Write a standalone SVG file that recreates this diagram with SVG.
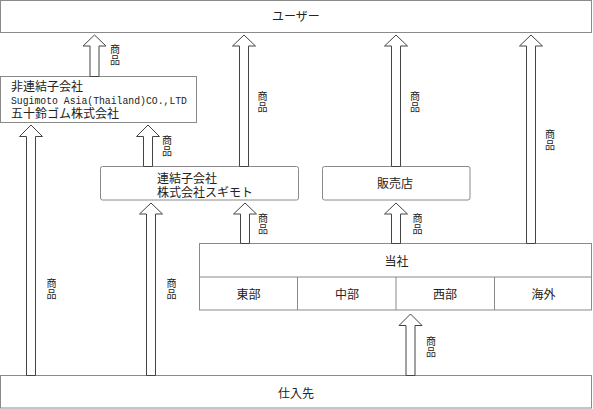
<svg xmlns="http://www.w3.org/2000/svg" width="593" height="409" viewBox="0 0 593 409">
<defs>
<style>
.box{fill:#fff;stroke:#8a8a8a;stroke-width:1}
.arr{fill:#fff;stroke:#444;stroke-width:1}
.t{font-family:"Liberation Serif","Noto Sans CJK JP",serif;font-size:12px;fill:#222}
.m{font-family:"Liberation Mono","Noto Sans CJK JP",monospace;font-size:11px;fill:#222}
.lbl{font-family:"Liberation Serif","Noto Sans CJK JP",serif;font-size:10px;fill:#222;text-anchor:middle}
.c{text-anchor:middle}
</style>
</defs>
<rect width="593" height="409" fill="#fff"/>
<g id="user">
<rect class="box" x="0.5" y="0.5" width="591" height="32"/>
<text class="t c" x="296" y="21">ユーザー</text>
</g>
<g id="nonconsolidated">
<rect class="box" x="0.5" y="76.5" width="196" height="46"/>
<text class="t" x="11" y="91">非連結子会社</text>
<text class="m" x="11" y="104" textLength="176" lengthAdjust="spacingAndGlyphs">Sugimoto Asia(Thailand)CO.,LTD</text>
<text class="t" x="11" y="118">五十鈴ゴム株式会社</text>
</g>
<g id="consolidated">
<rect class="box" x="100.5" y="166.5" width="198" height="33.5" rx="2"/>
<text class="t" x="157" y="182.5">連結子会社</text>
<text class="t" x="157" y="196.5">株式会社スギモト</text>
</g>
<g id="dealer">
<rect class="box" x="322.5" y="166.5" width="147.5" height="33.5" rx="2"/>
<text class="t c" x="395" y="188">販売店</text>
</g>
<g id="company">
<rect class="box" x="199.5" y="243.5" width="392" height="66.5"/>
<line class="box" x1="199.5" y1="277" x2="591.5" y2="277"/>
<line class="box" x1="297.5" y1="277" x2="297.5" y2="310"/>
<line class="box" x1="396" y1="277" x2="396" y2="310"/>
<line class="box" x1="494.5" y1="277" x2="494.5" y2="310"/>
<text class="t c" x="396.5" y="266">当社</text>
<text class="t c" x="248.5" y="299">東部</text>
<text class="t c" x="347" y="299">中部</text>
<text class="t c" x="445" y="299">西部</text>
<text class="t c" x="543.5" y="299">海外</text>
</g>
<g id="supplier">
<rect class="box" x="0.5" y="375.5" width="591" height="32.5"/>
<text class="t c" x="296" y="398">仕入先</text>
</g>
<g id="connectors">
<path class="arr" d="M94.5,35 L106,46 L99,46 L99,76.5 L90,76.5 L90,46 L83,46 Z"/>
<path class="arr" d="M244,35 L255.5,46 L248.5,46 L248.5,166.5 L239.5,166.5 L239.5,46 L232.5,46 Z"/>
<path class="arr" d="M396,35 L407.5,46 L400.5,46 L400.5,166.5 L391.5,166.5 L391.5,46 L384.5,46 Z"/>
<path class="arr" d="M531,35 L542.5,46 L535.5,46 L535.5,243.5 L526.5,243.5 L526.5,46 L519.5,46 Z"/>
<path class="arr" d="M148,125 L159.5,136.5 L152.5,136.5 L152.5,166.5 L143.5,166.5 L143.5,136.5 L136.5,136.5 Z"/>
<path class="arr" d="M31,125 L42.5,136.5 L35.5,136.5 L35.5,375.5 L26.5,375.5 L26.5,136.5 L19.5,136.5 Z"/>
<path class="arr" d="M151,203 L162.5,214 L155.5,214 L155.5,375.5 L146.5,375.5 L146.5,214 L139.5,214 Z"/>
<path class="arr" d="M245,203 L256.5,214 L249.5,214 L249.5,243.5 L240.5,243.5 L240.5,214 L233.5,214 Z"/>
<path class="arr" d="M396,203 L407.5,214 L400.5,214 L400.5,243.5 L391.5,243.5 L391.5,214 L384.5,214 Z"/>
<path class="arr" d="M410.5,314 L422,325.5 L415,325.5 L415,375.5 L406,375.5 L406,325.5 L399,325.5 Z"/>
<text class="lbl" x="115" y="52.5">商<tspan x="115" dy="11">品</tspan></text>
<text class="lbl" x="262.5" y="99.5">商<tspan x="262.5" dy="11">品</tspan></text>
<text class="lbl" x="415" y="99.5">商<tspan x="415" dy="11">品</tspan></text>
<text class="lbl" x="550" y="137.5">商<tspan x="550" dy="11">品</tspan></text>
<text class="lbl" x="167" y="143.5">商<tspan x="167" dy="11">品</tspan></text>
<text class="lbl" x="263" y="221.5">商<tspan x="263" dy="11">品</tspan></text>
<text class="lbl" x="417.5" y="221.5">商<tspan x="417.5" dy="11">品</tspan></text>
<text class="lbl" x="51.5" y="286.5">商<tspan x="51.5" dy="11">品</tspan></text>
<text class="lbl" x="171.5" y="286.5">商<tspan x="171.5" dy="11">品</tspan></text>
<text class="lbl" x="431" y="344.5">商<tspan x="431" dy="11">品</tspan></text>
</g>
</svg>
